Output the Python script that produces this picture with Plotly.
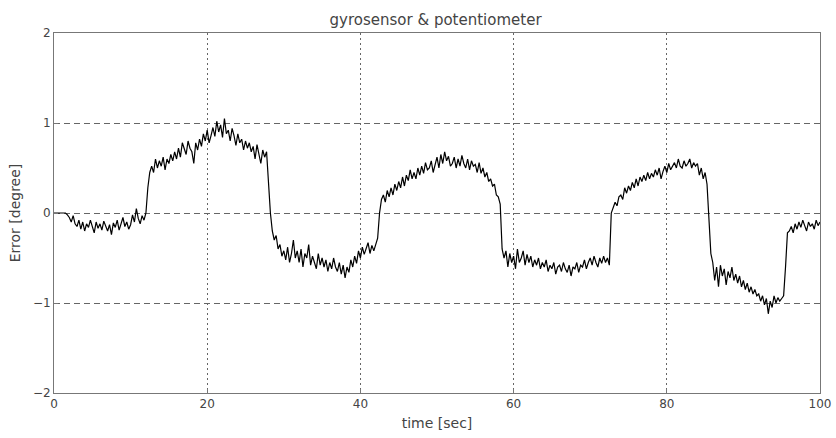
import plotly.graph_objects as go

t_start = 0.0
t_step = 0.25

error_deg = [
    0, 0, 0, 0, 0, 0, 0, -0.02,
    -0.05, -0.1, -0.03, -0.12,
    -0.15, -0.08, -0.18, -0.1,
    -0.2, -0.12, -0.16, -0.08,
    -0.14, -0.22, -0.1, -0.17,
    -0.12, -0.19, -0.09, -0.15,
    -0.2, -0.13, -0.24, -0.11,
    -0.16, -0.08, -0.19, -0.12,
    -0.05, -0.15, -0.1, -0.18,
    -0.13, -0.02, -0.1, 0.05,
    -0.06, -0.12, -0.03, -0.08,
    0.0, 0.28, 0.45, 0.52,
    0.45, 0.6, 0.5, 0.58,
    0.52, 0.62, 0.48, 0.6,
    0.55, 0.65, 0.58, 0.68,
    0.6, 0.72, 0.62, 0.78,
    0.7, 0.65, 0.8, 0.72,
    0.68, 0.55, 0.78, 0.7,
    0.82, 0.74, 0.88, 0.8,
    0.92, 0.78, 0.86, 0.95,
    0.85, 1.02, 0.9, 0.98,
    0.84, 1.05, 0.88, 0.92,
    0.8, 0.94, 0.86, 0.75,
    0.88, 0.78, 0.82, 0.7,
    0.8, 0.72, 0.78, 0.68,
    0.74, 0.6, 0.76, 0.66,
    0.55, 0.7, 0.62, 0.68,
    0.3, 0.0, -0.2, -0.3,
    -0.25, -0.4, -0.35, -0.48,
    -0.42, -0.52, -0.38, -0.55,
    -0.45, -0.3, -0.5, -0.42,
    -0.55, -0.4, -0.6, -0.45,
    -0.5, -0.35, -0.58, -0.48,
    -0.55, -0.62, -0.45, -0.58,
    -0.5, -0.6, -0.52, -0.65,
    -0.55, -0.62, -0.5, -0.6,
    -0.65, -0.55, -0.68, -0.58,
    -0.72, -0.6, -0.66, -0.52,
    -0.6, -0.48, -0.56, -0.42,
    -0.5, -0.38, -0.46, -0.4,
    -0.33, -0.45, -0.36, -0.42,
    -0.35, -0.28, 0.0, 0.15,
    0.2, 0.12, 0.25, 0.18,
    0.28, 0.2, 0.32, 0.25,
    0.35, 0.28, 0.4, 0.3,
    0.42, 0.36, 0.48, 0.38,
    0.45, 0.38, 0.5, 0.42,
    0.52, 0.44, 0.56, 0.48,
    0.5, 0.58, 0.45, 0.55,
    0.62, 0.5, 0.65, 0.55,
    0.68, 0.58, 0.63, 0.52,
    0.55, 0.62, 0.5, 0.6,
    0.52, 0.64, 0.55, 0.5,
    0.6, 0.48, 0.58, 0.52,
    0.54, 0.45, 0.56, 0.44,
    0.5, 0.4, 0.45, 0.35,
    0.38, 0.3, 0.32, 0.2,
    0.18, 0.1, -0.4, -0.5,
    -0.42, -0.6, -0.45, -0.55,
    -0.48, -0.62, -0.4, -0.55,
    -0.5, -0.42, -0.58, -0.46,
    -0.55, -0.48, -0.6, -0.52,
    -0.58, -0.5, -0.62, -0.55,
    -0.6, -0.52, -0.65, -0.58,
    -0.62, -0.55, -0.68, -0.6,
    -0.58, -0.65, -0.55, -0.62,
    -0.66, -0.58, -0.7, -0.6,
    -0.62, -0.55, -0.66, -0.58,
    -0.6, -0.52, -0.62, -0.55,
    -0.5, -0.58, -0.48, -0.55,
    -0.6, -0.5, -0.56, -0.48,
    -0.55, -0.5, -0.58, 0.0,
    0.05, 0.12, 0.08, 0.18,
    0.2, 0.15, 0.28, 0.22,
    0.3, 0.25, 0.34, 0.28,
    0.38, 0.3, 0.4, 0.35,
    0.42, 0.36, 0.45, 0.38,
    0.44, 0.4, 0.48, 0.42,
    0.5, 0.38, 0.46, 0.52,
    0.45, 0.55, 0.48, 0.52,
    0.56, 0.5, 0.6, 0.52,
    0.5, 0.58, 0.52, 0.55,
    0.6, 0.5, 0.56, 0.52,
    0.55, 0.42, 0.5, 0.38,
    0.45, 0.32, -0.1, -0.45,
    -0.55, -0.75, -0.6, -0.82,
    -0.58, -0.7, -0.62, -0.8,
    -0.65, -0.72, -0.6, -0.75,
    -0.68, -0.78, -0.7, -0.82,
    -0.75, -0.85, -0.78, -0.88,
    -0.82, -0.9, -0.85, -0.92,
    -0.9, -0.98, -0.92, -1.02,
    -0.95, -1.12, -0.98, -1.05,
    -0.92, -1.0, -0.94, -0.98,
    -0.95, -0.92, -0.6, -0.22,
    -0.2, -0.15, -0.22, -0.12,
    -0.18, -0.1, -0.16, -0.08,
    -0.14, -0.2, -0.1, -0.15,
    -0.12, -0.18, -0.08, -0.14,
    -0.1,
]
time_sec = [round(t_start + i * t_step, 2) for i in range(len(error_deg))]

x_ticks = [0, 20, 40, 60, 80, 100]
y_ticks = [-2, -1, 0, 1, 2]

FONT = "DejaVu Sans, Verdana, sans-serif"

fig = go.Figure()
fig.add_trace(go.Scatter(x=time_sec, y=error_deg, mode="lines",
                         line=dict(color="black", width=1.2), showlegend=False))

axis_common = dict(
    showline=True, linecolor="#777", linewidth=1, mirror=True,
    showgrid=True, gridcolor="#666", gridwidth=1,
    ticks="inside", ticklen=4, tickcolor="#777", automargin=False,
    zeroline=False, tickfont=dict(family=FONT, size=12, color="#444"),
)

fig.update_xaxes(range=[0, 100], tickvals=x_ticks, griddash="2px,3px",
                 ticklabeloverflow="allow",
                 title=dict(text="time [sec]", standoff=7,
                            font=dict(family=FONT, size=14, color="#444")),
                 **axis_common)
fig.update_yaxes(range=[-2, 2], tickvals=y_ticks, griddash="6px,4px",
                 title=dict(text="Error [degree]", standoff=8,
                            font=dict(family=FONT, size=14, color="#444")),
                 **axis_common)

fig.update_layout(
    width=836, height=438,
    margin=dict(l=54, r=16, t=33, b=45),
    paper_bgcolor="white", plot_bgcolor="white",
    title=dict(text="gyrosensor & potentiometer", x=0.521, xanchor="center", y=0.955, yanchor="middle",
               font=dict(family=FONT, size=15, color="#444")),
)

fig.write_html("out.html")
